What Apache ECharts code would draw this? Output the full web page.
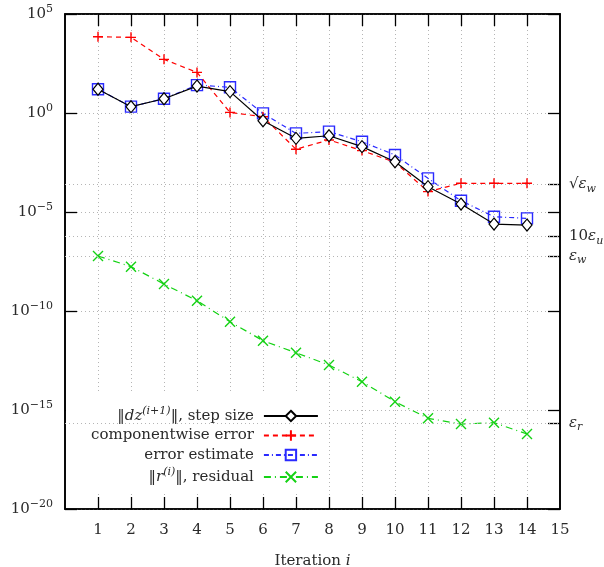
<!DOCTYPE html>
<html>
<head>
<meta charset="utf-8">
<script src="https://cdn.jsdelivr.net/npm/echarts@6/dist/echarts.min.js"></script>
<style>
html,body{margin:0;padding:0;background:#fff;}
#chart{width:604px;height:567px;}
</style>
</head>
<body>
<div id="chart"></div>
<script>
// ---- data (y values are log10 of the plotted quantity) ----
const iterations = [1, 2, 3, 4, 5, 6, 7, 8, 9, 10, 11, 12, 13, 14];
const stepSize = [1.20, 0.32, 0.72, 1.36, 1.08, -0.39, -1.28, -1.15, -1.70, -2.46, -3.72, -4.60, -5.61, -5.66];
const componentwiseError = [3.85, 3.82, 2.71, 2.05, 0.03, -0.19, -1.83, -1.36, -1.90, -2.49, -3.97, -3.55, -3.55, -3.55];
const errorEstimate = [1.20, 0.32, 0.72, 1.41, 1.30, -0.02, -1.03, -0.94, -1.45, -2.12, -3.30, -4.43, -5.24, -5.32];
const residual = [-7.22, -7.76, -8.64, -9.48, -10.54, -11.50, -12.11, -12.73, -13.57, -14.58, -15.42, -15.71, -15.64, -16.21];

const xTicks = [1, 2, 3, 4, 5, 6, 7, 8, 9, 10, 11, 12, 13, 14];
const yDecades = [-20, -15, -10, -5, 0, 5];
const specialLevels = [-3.61, -6.22, -7.22, -15.65];
const specialLabels = ['{n|√}{e|ε}{sub|w}', '{n|10}{e|ε}{sub|u}', '{e|ε}{sub|w}', '{e|ε}{sub|r}'];
const seriesNames = ['step size', 'componentwise error', 'error estimate', 'residual'];
const legendLabels = [
  '{n|‖}{e|dz}{sup|(i+1)}{n|‖, step size}',
  '{n|componentwise error}',
  '{n|error estimate}',
  '{n|‖}{e|r}{sup|(i)}{n|‖, residual}'
];

const F = 'DejaVu Serif';
const FS = 15;
const TC = '#2a2a2a';
const rich = {
  n: {fontFamily: F, fontSize: FS, fontStyle: 'normal', lineHeight: 20, color: TC},
  e: {fontFamily: F, fontSize: FS, fontStyle: 'italic', lineHeight: 20, color: TC},
  sup: {fontFamily: F, fontSize: 11, fontStyle: 'italic', lineHeight: 11, verticalAlign: 'top', color: TC},
  s: {fontFamily: F, fontSize: 11, fontStyle: 'normal', lineHeight: 11, verticalAlign: 'top', color: TC},
  sub: {fontFamily: F, fontSize: 11, fontStyle: 'italic', lineHeight: 10, verticalAlign: 'bottom', color: TC}
};

const pairs = arr => iterations.map((it, i) => [it, arr[i]]);
const gridLine = () => ({color: '#b5b5b5', type: [1, 3], width: 1});
const tickStyle = () => ({color: '#000', width: 1.3});
const axisLineStyle = () => ({color: '#000', width: 1.6});

const chart = echarts.init(document.getElementById('chart'), null, {renderer: 'canvas'});
chart.setOption({
  animation: false,
  grid: {left: 65, right: 44, top: 14, bottom: 58, outerBoundsMode: 'none',
    show: true, borderColor: '#000', borderWidth: 1.6},
  legend: {
    orient: 'vertical', align: 'right', left: 66, top: 394,
    padding: [12, 9, 9, 25], backgroundColor: '#fff',
    itemWidth: 54, itemHeight: 13, itemGap: 4.5,
    data: seriesNames,
    formatter: name => legendLabels[seriesNames.indexOf(name)],
    textStyle: {fontFamily: F, fontSize: FS, color: TC, padding: [0, 5, 0, 0], rich: rich}
  },
  xAxis: [{
    type: 'value', gridIndex: 0, min: 0, max: 15, interval: 1, position: 'bottom',
    axisLine: {show: true, onZero: false, lineStyle: axisLineStyle()},
    axisTick: {show: true, inside: true, length: 12, lineStyle: tickStyle(), customValues: xTicks},
    axisLabel: {margin: 14, fontFamily: F, fontSize: FS, color: TC, formatter: v => v === 0 ? '' : String(v)},
    splitLine: {show: true, lineStyle: gridLine()},
    name: '{n|Iteration }{e|i}', nameLocation: 'middle', nameGap: 42,
    nameTextStyle: {fontFamily: F, fontSize: FS, fontStyle: 'normal', color: TC, rich: rich}
  }, {
    type: 'value', gridIndex: 0, min: 0, max: 15, interval: 1, position: 'top',
    axisLine: {show: true, onZero: false, lineStyle: axisLineStyle()},
    axisTick: {show: true, inside: true, length: 12, lineStyle: tickStyle(), customValues: xTicks},
    axisLabel: {show: false},
    splitLine: {show: false}
  }],
  yAxis: [{
    type: 'value', gridIndex: 0, min: -20, max: 5, interval: 5, position: 'left',
    axisLine: {show: true, onZero: false, lineStyle: axisLineStyle()},
    axisTick: {show: true, inside: true, length: 12, lineStyle: tickStyle()},
    axisLabel: {margin: 12, formatter: v => '{n|10}{s|' + String(v).replace('-', '−') + '}', rich: rich},
    splitLine: {show: true, lineStyle: gridLine()}
  }, {
    type: 'value', gridIndex: 0, min: -20, max: 5, interval: 5, position: 'right',
    axisLine: {show: true, onZero: false, lineStyle: axisLineStyle()},
    axisTick: {show: true, inside: true, length: 12, lineStyle: tickStyle(), customValues: yDecades.concat(specialLevels)},
    axisLabel: {show: true, margin: 9, customValues: specialLevels,
      formatter: v => specialLabels[specialLevels.indexOf(v)], rich: rich},
    splitLine: {show: false}
  }],
  series: [{
    name: seriesNames[0], type: 'line', z: 5, data: pairs(stepSize),
    color: '#000', symbol: 'path://M5,0L10,6L5,12L0,6Z', symbolSize: [10, 12],
    lineStyle: {color: '#000', width: 1.2, type: 'solid'},
    itemStyle: {color: '#fff', borderColor: '#000', borderWidth: 1.2},
    markLine: {silent: true, symbol: 'none', label: {show: false},
      lineStyle: gridLine(), data: specialLevels.map(v => ({yAxis: v}))}
  }, {
    name: seriesNames[1], type: 'line', z: 4, data: pairs(componentwiseError),
    color: '#ff0000', symbol: 'path://M5,0L5,10M0,5L10,5', symbolSize: 10,
    lineStyle: {color: '#ff0000', width: 1.2, type: [5, 4]},
    itemStyle: {color: '#ff0000', borderColor: '#ff0000', borderWidth: 1.4}
  }, {
    name: seriesNames[2], type: 'line', z: 3, data: pairs(errorEstimate),
    color: '#2a2aff', symbol: 'path://M0,0L10,0L10,10L0,10Z', symbolSize: 11,
    lineStyle: {color: '#2a2aff', width: 1.2, type: [5, 3, 1, 3]},
    itemStyle: {color: 'rgba(255,255,255,0)', borderColor: '#2a2aff', borderWidth: 1.4}
  }, {
    name: seriesNames[3], type: 'line', z: 3, data: pairs(residual),
    color: '#14d214', symbol: 'path://M0,0L10,10M10,0L0,10', symbolSize: 10,
    lineStyle: {color: '#14d214', width: 1.2, type: [7, 4, 1, 4]},
    itemStyle: {color: '#14d214', borderColor: '#14d214', borderWidth: 1.4}
  }]
});
</script>
</body>
</html>
